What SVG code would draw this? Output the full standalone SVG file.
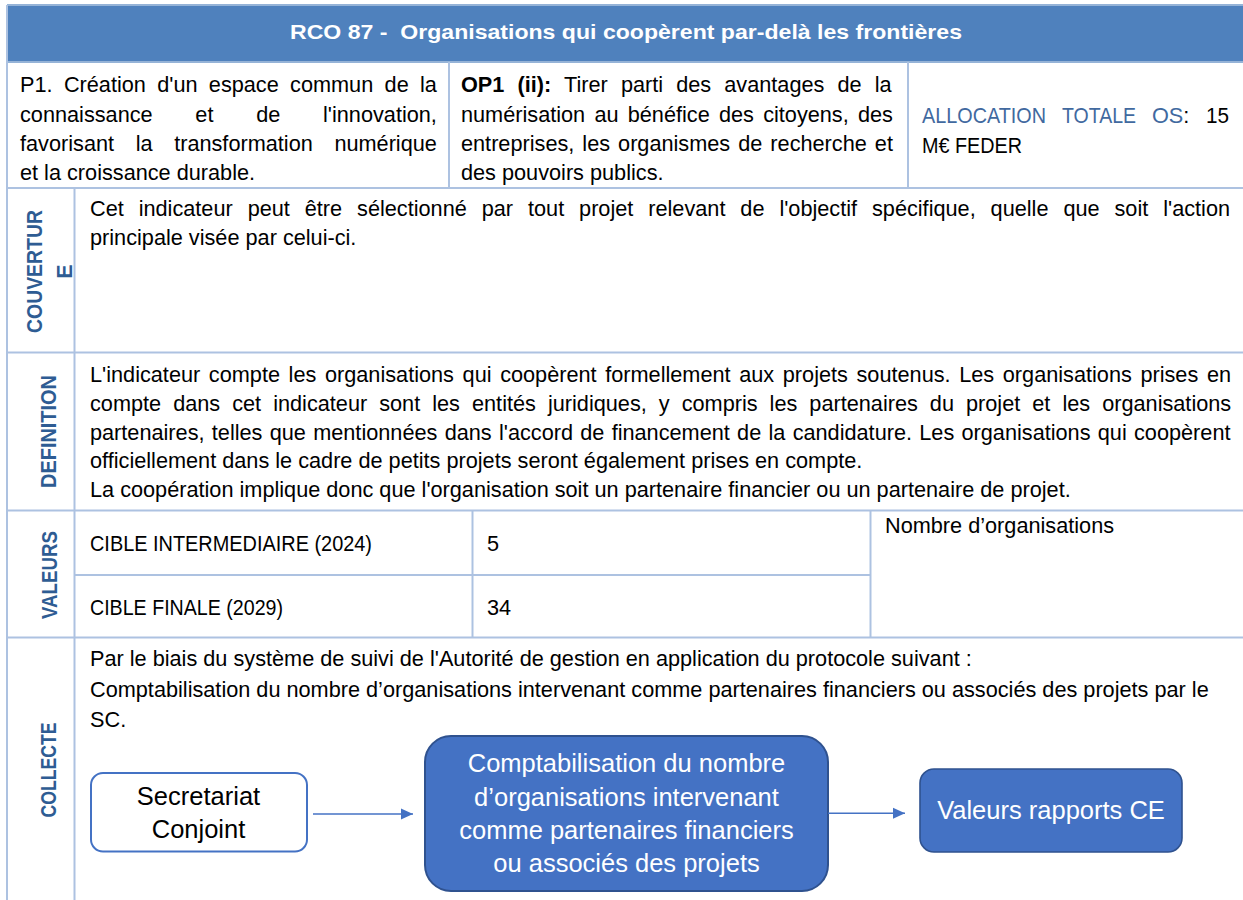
<svg xmlns="http://www.w3.org/2000/svg" width="1243" height="900" viewBox="0 0 1243 900">
<style>
.t{font-family:"Liberation Sans",Arial,sans-serif;font-size:21.7px;fill:#000}
.b{font-weight:bold}
.lab{font-family:"Liberation Sans",Arial,sans-serif;font-size:21.5px;font-weight:bold;fill:#2e5c93;text-anchor:middle}
.hd{font-family:"Liberation Sans",Arial,sans-serif;font-size:21px;font-weight:bold;fill:#fff;text-anchor:middle}
.grid{stroke:#adc2e1;stroke-width:2;fill:none}
.nt{font-family:"Liberation Sans",Arial,sans-serif;font-size:25.5px;text-anchor:middle}
.conn{stroke:#4472c4;stroke-width:1.6;fill:none}
.blue{fill:#41699f}
</style>
<defs>
<marker id="ah" markerUnits="userSpaceOnUse" markerWidth="12" markerHeight="12" refX="12" refY="6" orient="auto">
<path d="M0,0.5 L12,6 L0,11.5 z" fill="#4472c4"/>
</marker>
</defs>
<rect x="0" y="0" width="1243" height="900" fill="#fff"/>

<g id="header">
<rect x="7" y="5" width="1236" height="57" fill="#4f81bd"/>
<line x1="7" y1="5" x2="1243" y2="5" stroke="#95b3d7" stroke-width="2"/>
<line x1="7" y1="62" x2="1243" y2="62" stroke="#95b3d7" stroke-width="2"/>
<text class="hd" x="626" y="39" textLength="672" lengthAdjust="spacingAndGlyphs">RCO 87 -&#160; Organisations qui coopèrent par-delà les frontières</text>
</g>

<g id="grid" class="grid">
<line x1="7" y1="5" x2="7" y2="900"/>
<line x1="7" y1="188" x2="1243" y2="188"/>
<line x1="7" y1="352.5" x2="1243" y2="352.5"/>
<line x1="7" y1="510.5" x2="1243" y2="510.5"/>
<line x1="7" y1="637.5" x2="1243" y2="637.5"/>
<line x1="449" y1="62" x2="449" y2="188"/>
<line x1="908" y1="62" x2="908" y2="188"/>
<line x1="74.5" y1="188" x2="74.5" y2="900"/>
<line x1="472.5" y1="510.5" x2="472.5" y2="637.5"/>
<line x1="870.5" y1="510.5" x2="870.5" y2="637.5"/>
<line x1="74.5" y1="575" x2="870.5" y2="575"/>
</g>

<g id="priorite">
<text class="t" x="20" y="92" word-spacing="5.3">P1. Création d'un espace commun de la</text>
<text class="t" x="20" y="121.5" word-spacing="36.7">connaissance et de l'innovation,</text>
<text class="t" x="20" y="151" word-spacing="15.6">favorisant la transformation numérique</text>
<text class="t" x="20" y="180">et la croissance durable.</text>
</g>

<g id="objectif">
<text class="t" x="461" y="92" word-spacing="7.1"><tspan class="b">OP1 (ii):</tspan> Tirer parti des avantages de la</text>
<text class="t" x="461" y="121.5" word-spacing="3.2">numérisation au bénéfice des citoyens, des</text>
<text class="t" x="461" y="151" word-spacing="2.0">entreprises, les organismes de recherche et</text>
<text class="t" x="461" y="180">des pouvoirs publics.</text>
</g>

<g id="allocation">
<text class="t blue" x="922" y="123.3" textLength="124" lengthAdjust="spacingAndGlyphs">ALLOCATION</text>
<text class="t blue" x="1062" y="123.3" textLength="74" lengthAdjust="spacingAndGlyphs">TOTALE</text>
<text class="t" x="1152" y="123.3"><tspan class="blue">OS</tspan>:</text>
<text class="t" x="1206" y="123.3" textLength="23" lengthAdjust="spacingAndGlyphs">15</text>
<text class="t" x="922" y="152.7" textLength="100" lengthAdjust="spacingAndGlyphs">M€ FEDER</text>
</g>

<g id="couverture">
<text class="lab" transform="translate(42,271.5) rotate(-90)" textLength="123" lengthAdjust="spacingAndGlyphs">COUVERTUR</text>
<text class="lab" transform="translate(72,271.5) rotate(-90)">E</text>
<text class="t" x="90" y="216" word-spacing="8.9">Cet indicateur peut être sélectionné par tout projet relevant de l'objectif spécifique, quelle que soit l'action</text>
<text class="t" x="90" y="244.5">principale visée par celui-ci.</text>
</g>

<g id="definition">
<text class="lab" transform="translate(55.5,431.5) rotate(-90)" textLength="113" lengthAdjust="spacingAndGlyphs">DEFINITION</text>
<text class="t" x="90" y="381.7" word-spacing="2.6">L'indicateur compte les organisations qui coopèrent formellement aux projets soutenus. Les organisations prises en</text>
<text class="t" x="90" y="410.5" word-spacing="6.0">compte dans cet indicateur sont les entités juridiques, y compris les partenaires du projet et les organisations</text>
<text class="t" x="90" y="439.5" word-spacing="1.25">partenaires, telles que mentionnées dans l'accord de financement de la candidature. Les organisations qui coopèrent</text>
<text class="t" x="90" y="468">officiellement dans le cadre de petits projets seront également prises en compte.</text>
<text class="t" x="90" y="497">La coopération implique donc que l'organisation soit un partenaire financier ou un partenaire de projet.</text>
</g>

<g id="valeurs">
<text class="lab" transform="translate(56.5,575) rotate(-90)" textLength="88" lengthAdjust="spacingAndGlyphs">VALEURS</text>
<text class="t" x="90" y="551" textLength="282" lengthAdjust="spacingAndGlyphs">CIBLE INTERMEDIAIRE (2024)</text>
<text class="t" x="487" y="551">5</text>
<text class="t" x="90" y="615" textLength="193" lengthAdjust="spacingAndGlyphs">CIBLE FINALE (2029)</text>
<text class="t" x="487" y="615">34</text>
<text class="t" x="885" y="533">Nombre d’organisations</text>
</g>

<g id="collecte">
<text class="lab" transform="translate(56,770) rotate(-90)" textLength="95" lengthAdjust="spacingAndGlyphs">COLLECTE</text>
<text class="t" x="90" y="666">Par le biais du système de suivi de l'Autorité de gestion en application du protocole suivant :</text>
<text class="t" x="90" y="696.5">Comptabilisation du nombre d’organisations intervenant comme partenaires financiers ou associés des projets par le</text>
<text class="t" x="90" y="727">SC.</text>
</g>

<g id="node-secretariat">
<rect x="91" y="773" width="216" height="78.5" rx="12" fill="#fff" stroke="#4472c4" stroke-width="2"/>
<text class="nt" x="198.5" y="805" fill="#000">Secretariat</text>
<text class="nt" x="198.5" y="838" fill="#000">Conjoint</text>
</g>

<g id="node-comptabilisation">
<rect x="425" y="736" width="403" height="155" rx="26" fill="#4472c4" stroke="#2f528f" stroke-width="2"/>
<text class="nt" x="626.5" y="772" fill="#fff">Comptabilisation du nombre</text>
<text class="nt" x="626.5" y="805.5" fill="#fff">d’organisations intervenant</text>
<text class="nt" x="626.5" y="839" fill="#fff">comme partenaires financiers</text>
<text class="nt" x="626.5" y="872" fill="#fff">ou associés des projets</text>
</g>

<g id="node-valeurs">
<rect x="920" y="769" width="262" height="83" rx="14" fill="#4472c4" stroke="#2f528f" stroke-width="1.6"/>
<text class="nt" x="1051" y="819" fill="#fff">Valeurs rapports CE</text>
</g>

<g id="connectors">
<line class="conn" x1="313" y1="814" x2="413" y2="814" marker-end="url(#ah)"/>
<line class="conn" x1="828" y1="813.3" x2="905" y2="813.3" marker-end="url(#ah)"/>
</g>
</svg>
